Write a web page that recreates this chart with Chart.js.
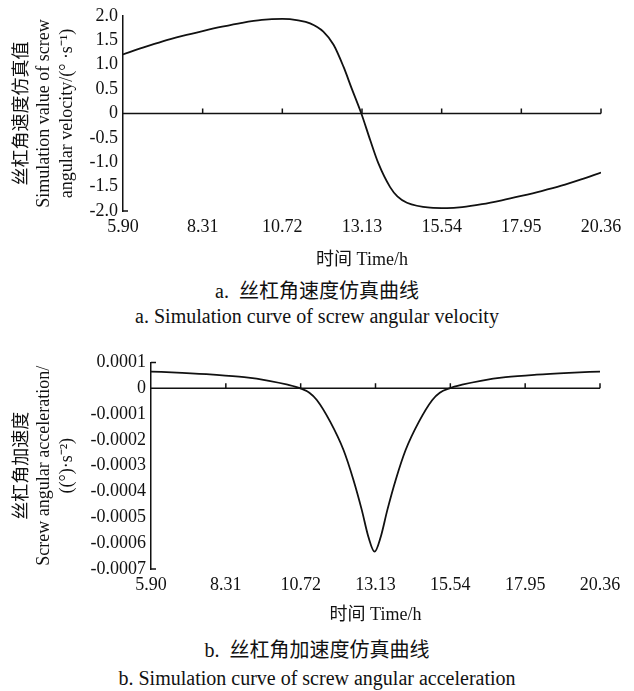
<!DOCTYPE html>
<html>
<head>
<meta charset="utf-8">
<script src="https://cdn.jsdelivr.net/npm/chart.js@4.4.0/dist/chart.umd.min.js"></script>
<style>
  body { margin: 0; background: #fff; }
  #wrap { position: relative; width: 634px; height: 691px; font-family: "Liberation Serif", "Noto Sans CJK SC", serif; color: #111; }
  canvas { position: absolute; left: 0; }
  .cap { position: absolute; left: 0; width: 634px; text-align: center; font-size: 20px; line-height: 24px; white-space: pre; }
</style>
</head>
<body>
<div id="wrap">
  <canvas id="chartA" width="634" height="272" style="top:0"></canvas>
  <div class="cap" style="top:279px">a.  丝杠角速度仿真曲线</div>
  <div class="cap" style="top:304px">a. Simulation curve of screw angular velocity</div>
  <canvas id="chartB" width="634" height="287" style="top:340px"></canvas>
  <div class="cap" style="top:638px">b.  丝杠角加速度仿真曲线</div>
  <div class="cap" style="top:666px">b. Simulation curve of screw angular acceleration</div>
</div>
<script>
  // x axis (time, h)
  var xTicks = [5.90, 8.31, 10.72, 13.13, 15.54, 17.95, 20.36];

  // a. angular velocity, (°)/s
  var velTime = [5.90, 6.50, 7.10, 7.70, 8.31, 8.90, 9.50, 10.10, 10.72, 11.20, 11.56, 11.96, 12.27, 12.57, 12.82, 13.11,
    13.38, 13.63, 13.98, 14.20, 14.49, 15.19, 15.70, 16.16, 16.76, 17.36, 17.95, 18.56, 19.16, 19.76, 20.36];
  var velValue = [1.21, 1.35, 1.48, 1.59, 1.69, 1.78, 1.86, 1.92, 1.94, 1.91, 1.85, 1.68, 1.41, 0.96, 0.51, 0,
    -0.55, -1.03, -1.51, -1.70, -1.83, -1.93, -1.94, -1.92, -1.86, -1.78, -1.69, -1.59, -1.48, -1.35, -1.21];
  var velTicks = [-2.0, -1.5, -1.0, -0.5, 0, 0.5, 1.0, 1.5, 2.0];
  var velLabels = ['-2.0', '-1.5', '-1.0', '-0.5', '0', '0.5', '1.0', '1.5', '2.0'];

  // b. angular acceleration, (°)/s^2
  var accTime = [5.90, 6.90, 7.90, 8.90, 9.70, 10.30, 10.71, 11.00, 11.24, 11.67, 12.10, 12.42, 12.69, 12.90, 13.10,
    13.30, 13.51, 13.78, 14.10, 14.53, 14.96, 15.20, 15.51, 15.92, 16.52, 17.32, 18.32, 19.36, 20.36];
  var accValue = [0.000065, 0.000060, 0.000053, 0.000043, 0.000029, 0.000014, 0, -0.000017, -0.000045, -0.000129,
    -0.000239, -0.000355, -0.000472, -0.000575, -0.000633, -0.000575, -0.000472, -0.000355, -0.000239, -0.000129,
    -0.000045, -0.000017, 0, 0.000014, 0.000029, 0.000043, 0.000053, 0.000060, 0.000065];
  var accTicks = [-0.0007, -0.0006, -0.0005, -0.0004, -0.0003, -0.0002, -0.0001, 0, 0.0001];
  var accLabels = ['-0.0007', '-0.0006', '-0.0005', '-0.0004', '-0.0003', '-0.0002', '-0.0001', '0', '0.0001'];

  var ink = '#111';
  var fontFam = "'Liberation Serif', 'Noto Sans CJK SC', serif";

  // zero line with upward tick marks, plus small stubs on the y axis
  var zeroAxis = {
    id: 'zeroAxis',
    afterDatasetsDraw: function (chart, args, opts) {
      var ctx = chart.ctx, xs = chart.scales.x, ys = chart.scales.y, area = chart.chartArea;
      var y0 = ys.getPixelForValue(0);
      ctx.save();
      ctx.strokeStyle = ink;
      ctx.lineWidth = 1.5;
      ctx.beginPath();
      ctx.moveTo(area.left, y0);
      ctx.lineTo(area.right, y0);
      xTicks.forEach(function (t, i) {
        if (i === 0) return;
        var px = xs.getPixelForValue(t);
        ctx.moveTo(px, y0);
        ctx.lineTo(px, y0 - 5);
      });
      ctx.moveTo(area.left, area.bottom);
      ctx.lineTo(area.left + 5, area.bottom);
      if (opts.topStub) {
        ctx.moveTo(area.left, area.top);
        ctx.lineTo(area.left + 5, area.top);
      }
      ctx.stroke();
      ctx.restore();
    }
  };

  function makeChart(id, times, values, yTicks, yLabels, yTitle, yWidth, xHeight, pad, topStub) {
    var pts = times.map(function (t, i) { return { x: t, y: values[i] }; });
    return new Chart(document.getElementById(id), {
      type: 'line',
      data: {
        datasets: [{
          data: pts,
          borderColor: ink,
          borderWidth: 1.8,
          pointRadius: 0,
          fill: false,
          cubicInterpolationMode: 'monotone'
        }]
      },
      options: {
        responsive: false,
        animation: false,
        layout: { padding: pad },
        plugins: {
          legend: { display: false },
          tooltip: { enabled: false },
          zeroAxis: { topStub: topStub }
        },
        scales: {
          x: {
            type: 'linear',
            min: xTicks[0],
            max: xTicks[xTicks.length - 1],
            afterBuildTicks: function (s) { s.ticks = xTicks.map(function (v) { return { value: v }; }); },
            afterFit: function (s) { s.height = xHeight; },
            ticks: {
              color: ink, padding: 5, maxRotation: 0, autoSkip: false,
              font: { family: fontFam, size: 18 },
              callback: function (v) { return Number(v).toFixed(2); }
            },
            grid: { display: false, drawTicks: false },
            border: { display: false },
            title: {
              display: true, text: '时间 Time/h', color: ink,
              font: { family: fontFam, size: 18 },
              padding: { top: 0, bottom: 1 }
            }
          },
          y: {
            min: yTicks[0],
            max: yTicks[yTicks.length - 1],
            afterBuildTicks: function (s) { s.ticks = yTicks.map(function (v) { return { value: v }; }); },
            afterFit: function (s) { s.width = yWidth; },
            ticks: {
              color: ink, padding: 5, autoSkip: false,
              font: { family: fontFam, size: 18 },
              callback: function (v, i) { return yLabels[i]; }
            },
            grid: { display: false, drawTicks: false },
            border: { display: true, color: ink, width: 1.5 },
            title: {
              display: true, text: yTitle, color: ink,
              font: { family: fontFam, size: 18, lineHeight: 1.25 },
              padding: { top: 11, bottom: 0 }
            }
          }
        }
      },
      plugins: [zeroAxis]
    });
  }

  makeChart('chartA', velTime, velValue, velTicks, velLabels,
    ['丝杠角速度仿真值', 'Simulation value of screw', 'angular velocity/(° ·s⁻¹)'],
    123, 61, { top: 16, right: 33, bottom: 0, left: 0 }, false);

  makeChart('chartB', accTime, accValue, accTicks, accLabels,
    ['丝杠角加速度', 'Screw angular acceleration/', '((°)·s⁻²)'],
    151, 58, { top: 22.5, right: 34, bottom: 0, left: 0 }, true);
</script>
</body>
</html>
